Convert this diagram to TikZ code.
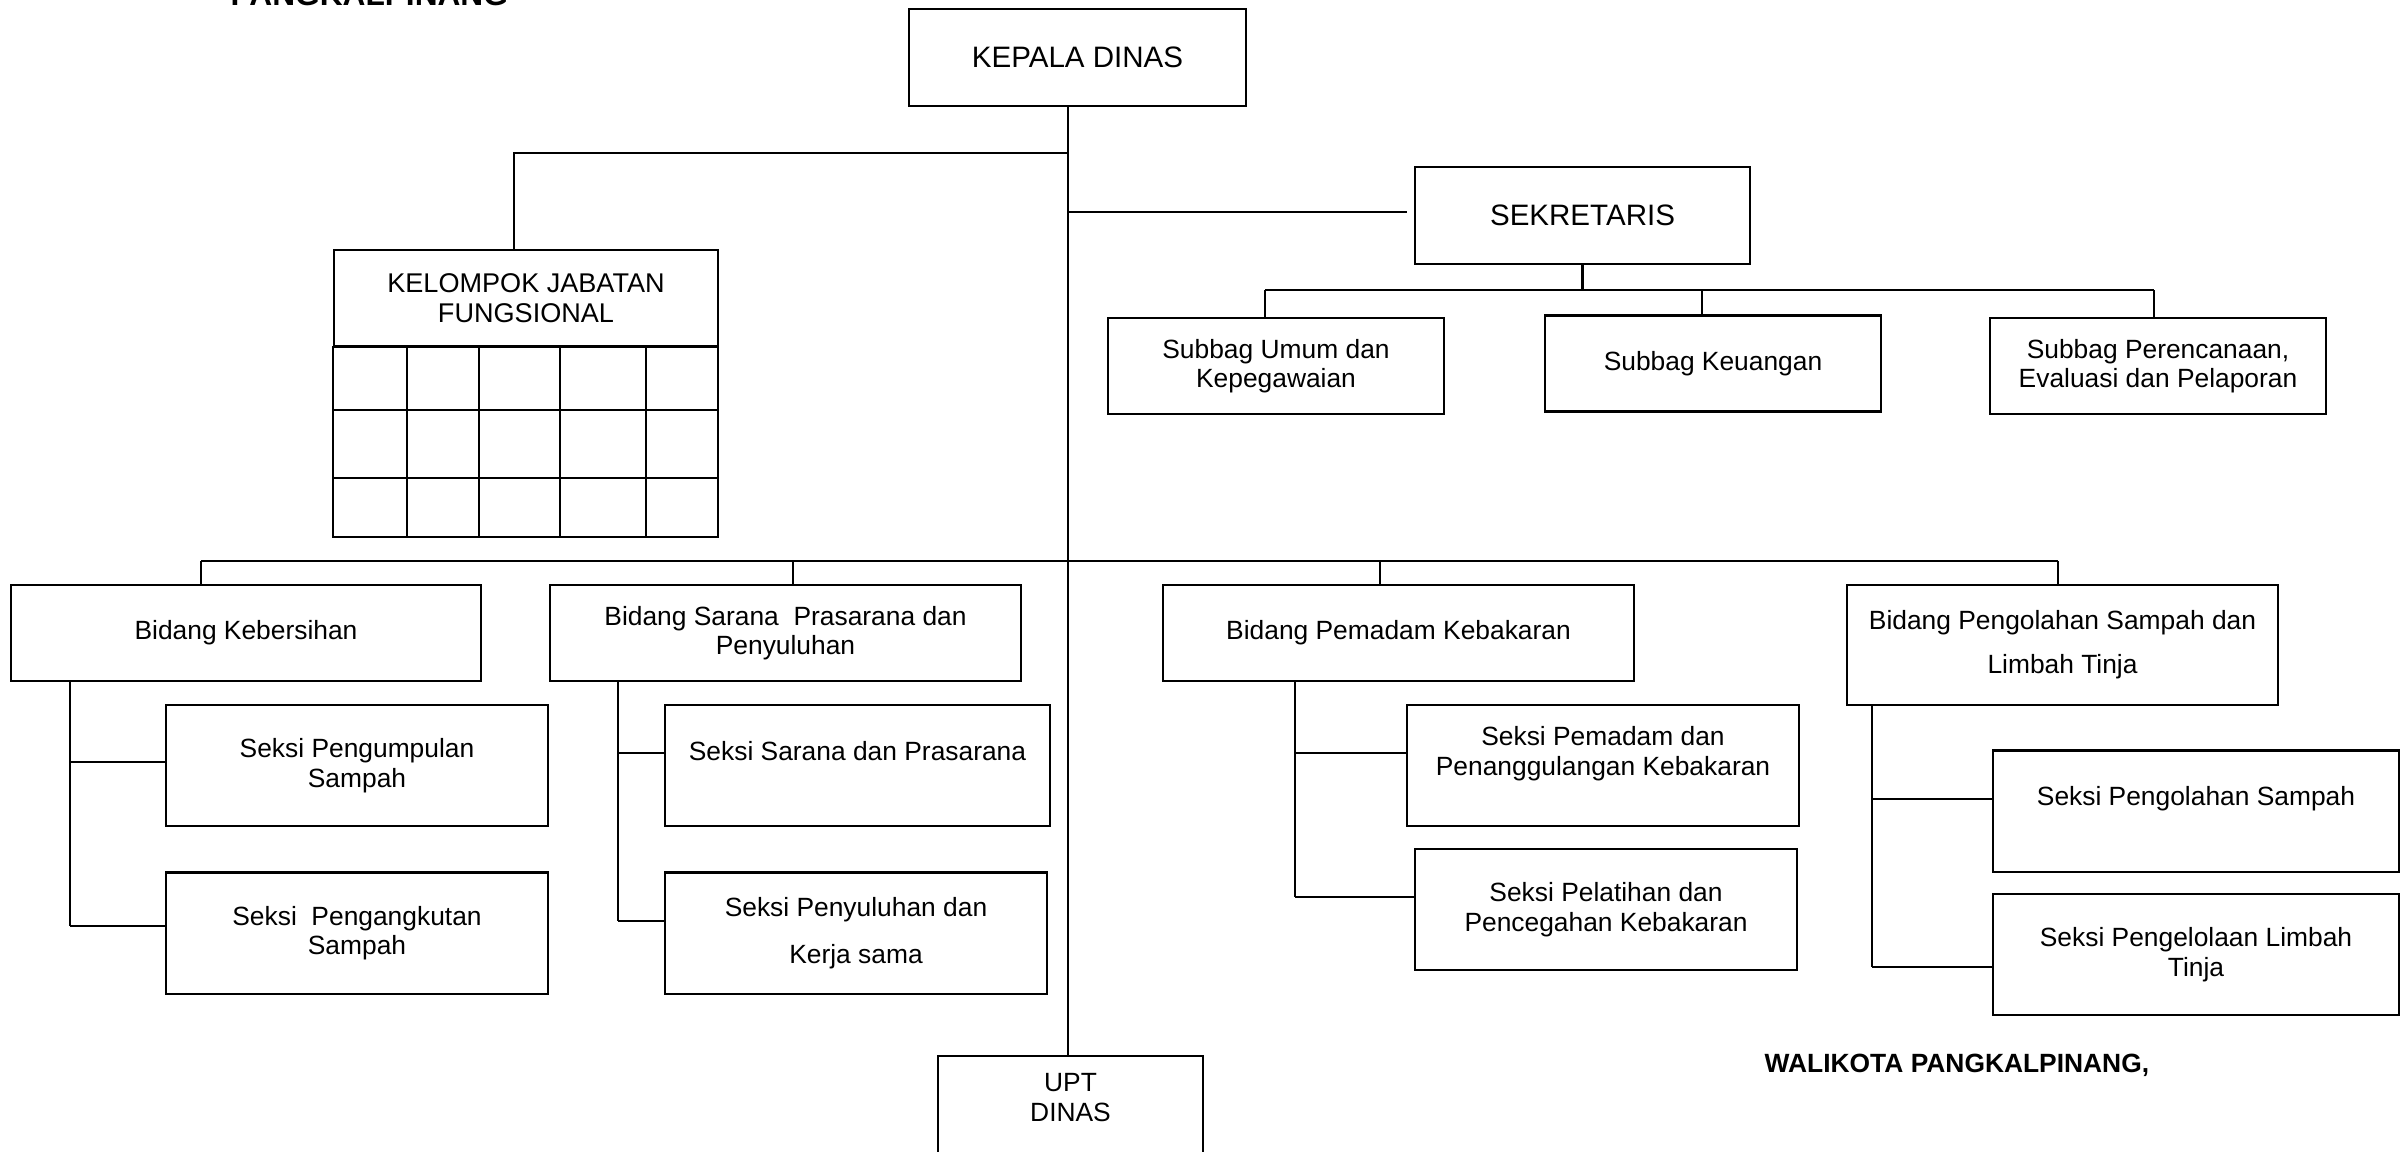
\documentclass[tikz,border=0pt]{standalone}
\usepackage{fontspec}
\setmainfont{Liberation Sans}
\usepackage{tikz}

\tikzset{
  unit/.style={draw, line width=0.6pt, align=center, inner sep=0pt,
    font=\fontsize{7.5}{8.4}\selectfont},
  head/.style={unit, font=\fontsize{8.4}{9.4}\selectfont},
  subbag/.style={unit, minimum width=3.36cm, minimum height=0.96cm},
  bidang/.style={unit, minimum width=4.7cm, minimum height=0.96cm},
  seksi/.style={unit, minimum width=3.82cm, minimum height=1.21cm},
  link/.style={line width=0.6pt},
  title/.style={inner sep=0pt, font=\bfseries\fontsize{7.5}{8.4}\selectfont}
}

\begin{document}
\begin{tikzpicture}[x=0.01cm, y=-0.01cm]
    \useasboundingbox (0,0) rectangle (2401,1151);
    \clip (0,0) rectangle (2401,1151);

    % heading, cut by the page edge
    \node[title, font=\bfseries\fontsize{9}{10}\selectfont, anchor=base west] (kota) at (230,5) {PANGKALPINANG};

    % top level
    \node[head, minimum width=3.37cm, minimum height=0.97cm] (kepala) at (1077.5,57.5) {KEPALA DINAS};
    \node[head, minimum width=3.35cm, minimum height=0.97cm] (sekretaris) at (1582.5,215.5) {SEKRETARIS};
    \node[unit, font=\fontsize{7.7}{8.6}\selectfont, minimum width=3.84cm, minimum height=0.96cm] (fungsional) at (526,298) {KELOMPOK JABATAN\\FUNGSIONAL};

    % subbag
    \node[subbag] (umum) at (1276,366) {Subbag Umum dan\\Kepegawaian};
    \node[subbag] (keuangan) at (1713,363.5) {Subbag Keuangan};
    \node[subbag] (perencanaan) at (2158,366) {Subbag Perencanaan,\\Evaluasi dan Pelaporan};

    % bidang
    \node[bidang] (kebersihan) at (246,633) {Bidang Kebersihan};
    \node[bidang] (sarana) at (785.5,633) {Bidang Sarana\ \ Prasarana dan\\Penyuluhan};
    \node[bidang] (pemadam) at (1398.5,633) {Bidang Pemadam Kebakaran};
    \node[bidang, minimum width=4.31cm, minimum height=1.2cm] (pengolahan) at (2062.5,645) {Bidang Pengolahan Sampah dan\\[4.1pt]Limbah Tinja};

    % seksi
    \node[seksi] (pengumpulan) at (357,765.5) {Seksi Pengumpulan\\Sampah};
    \node[seksi] (pengangkutan) at (357,933) {Seksi\ \ Pengangkutan\\Sampah};
    \node[seksi, minimum width=3.85cm] (prasarana) at (857.5,765.5) {Seksi Sarana dan Prasarana\\\mbox{}};
    \node[seksi] (penyuluhan) at (856,933) {Seksi Penyuluhan dan\\[5pt]Kerja sama};
    \node[seksi, minimum width=3.92cm] (penanggulangan) at (1603,765.5) {Seksi Pemadam dan\\Penanggulangan Kebakaran\\\mbox{}};
    \node[seksi] (pelatihan) at (1606,909.5) {Seksi Pelatihan dan\\Pencegahan Kebakaran};
    \node[seksi, minimum width=4.06cm] (olahsampah) at (2196,811) {Seksi Pengolahan Sampah\\\mbox{}};
    \node[seksi, minimum width=4.06cm] (limbah) at (2196,954.5) {Seksi Pengelolaan Limbah\\Tinja};

    % UPT, cut by the page edge
    \node[unit, minimum width=2.65cm, minimum height=1.12cm] (upt) at (1070.5,1112) {UPT\\DINAS\\\mbox{}};

    \node[title, anchor=west] (walikota) at (1764,1065) {WALIKOTA PANGKALPINANG,};

    % table under the fungsional box
    \draw[link] (fungsional.south west) rectangle (718,537);
    \foreach \y in {410,478} \draw[link] (334,\y) -- (718,\y);
    \foreach \x in {407,479,560,646} \draw[link] (\x,346) -- (\x,537);

    % trunk
    \coordinate (trunk) at (1068,0);
    \draw[link] (trunk |- kepala.south) -- (trunk |- upt.north);
    \draw[link] (trunk |- 0,153) -- (514,153) -- (514,0 |- fungsional.north);
    \draw[link, shorten >=2pt] (trunk |- 0,212) -- (sekretaris.west |- 0,212);

    % sekretaris to subbag
    \draw[link] (sekretaris.south) -- (sekretaris.south |- 0,290);
    \draw[link] (1265,290) -- (2154,290);
    \foreach \n/\x in {umum/1265, keuangan/1702, perencanaan/2154}
        \draw[link] (\x,290) -- (\x,0 |- \n.north);

    % bar to bidang
    \draw[link] (201,561) -- (2058,561);
    \foreach \n/\x in {kebersihan/201, sarana/793, pemadam/1380, pengolahan/2058}
        \draw[link] (\x,561) -- (\x,0 |- \n.north);

    % bidang to seksi
    \foreach \b/\x/\last in {kebersihan/70/926, sarana/618/921, pemadam/1295/897, pengolahan/1872/967}
        \draw[link] (\x,0 |- \b.south) -- (\x,\last);
    \foreach \n/\x/\y in {pengumpulan/70/762, pengangkutan/70/926, prasarana/618/753, penyuluhan/618/921,
        penanggulangan/1295/753, pelatihan/1295/897, olahsampah/1872/799, limbah/1872/967}
        \draw[link] (\x,\y) -- (\n.west |- 0,\y);
\end{tikzpicture}
\end{document}
